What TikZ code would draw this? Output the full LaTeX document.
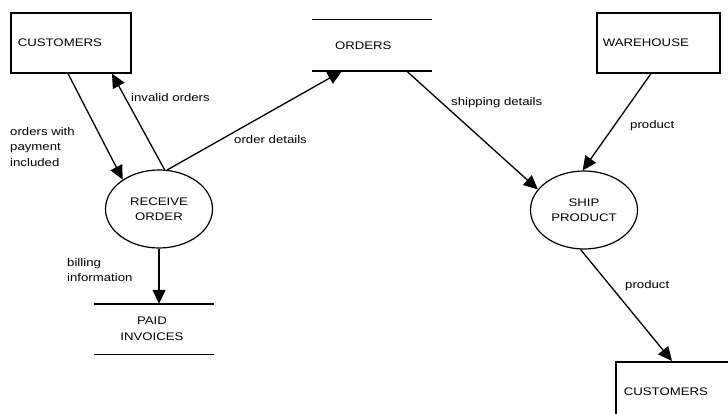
\documentclass[tikz,border=0pt]{standalone}
\usepackage{fontspec}
\setmainfont{Liberation Sans}[FakeStretch=1.2]
\usetikzlibrary{arrows.meta,shapes.geometric}

\begin{document}
\begin{tikzpicture}[x=1pt,y=-1pt,
  font=\fontsize{11}{15.5}\selectfont,
  entity/.style={draw, line width=1.6pt, minimum height=60pt, inner xsep=7pt,
    align=left, anchor=north west},
  process/.style={draw, ellipse, line width=1.2pt, minimum width=107pt,
    minimum height=78pt, inner sep=0pt, align=center},
  store/.style={minimum width=120pt, minimum height=50pt, inner sep=0pt, align=center},
  storeline/.style={line width=1.4pt},
  flow/.style={line width=1.3pt, -{Triangle[length=14pt,width=13pt]}},
  lbl/.style={anchor=west, align=left, inner sep=0pt}
]

\clip (0,0) rectangle (728,414);
\fill[white] (0,0) rectangle (728,414);

% external entities
\node[entity, minimum width=120pt, text width=106pt] (cust) at (10,12) {CUSTOMERS};
\node[entity, minimum width=123pt, text width=111pt, inner xsep=6pt] (wh) at (596,12) {WAREHOUSE};
\node[entity, minimum width=130pt, text width=114pt, inner xsep=8pt] (cust2) at (615,361) {CUSTOMERS};

% processes
\node[process] (recv) at (159,209) {RECEIVE\\ORDER};
\node[process] (ship) at (584,210) {SHIP\\PRODUCT};

% data stores
\node[store, minimum height=51pt, inner xsep=23pt, text width=74pt, align=left]
  (orders) at (372,45.5) {ORDERS};
\node[store] (pinv) at (152,329) {PAID\\INVOICES};
\draw[storeline] (orders.north west) -- (orders.north east)
                 (orders.south west) -- (orders.south east);
\draw[storeline] ([xshift=2pt]pinv.north west) -- ([xshift=2pt]pinv.north east)
                 ([xshift=2pt]pinv.south west) -- ([xshift=2pt]pinv.south east);

% data flows
\draw[flow] ([xshift=58pt]cust.south west) -- (recv.141);
\draw[flow] (recv.82) -- ([xshift=102pt]cust.south west);
\draw[flow] (recv.78) -- ([xshift=30pt]orders.south west);
\draw[flow] ([xshift=95pt]orders.south west) -- (ship.156);
\draw[flow] ([xshift=55pt]wh.south west) -- (ship.92);
\draw[flow] (ship.265) -- ([xshift=57pt]cust2.north west);
\draw[flow] (recv.south) -- (recv.south |- pinv.north);

% flow labels
\node[lbl] (l1) at (10,147) {orders with\\payment\\included};
\node[lbl] (l2) at (131,98) {invalid orders};
\node[lbl] (l3) at (234,140) {order details};
\node[lbl] (l4) at (451,103) {shipping details};
\node[lbl] (l5) at (630,126) {product};
\node[lbl] (l6) at (625,286) {product};
\node[lbl] (l7) at (67,270) {billing\\information};
\end{tikzpicture}
\end{document}
